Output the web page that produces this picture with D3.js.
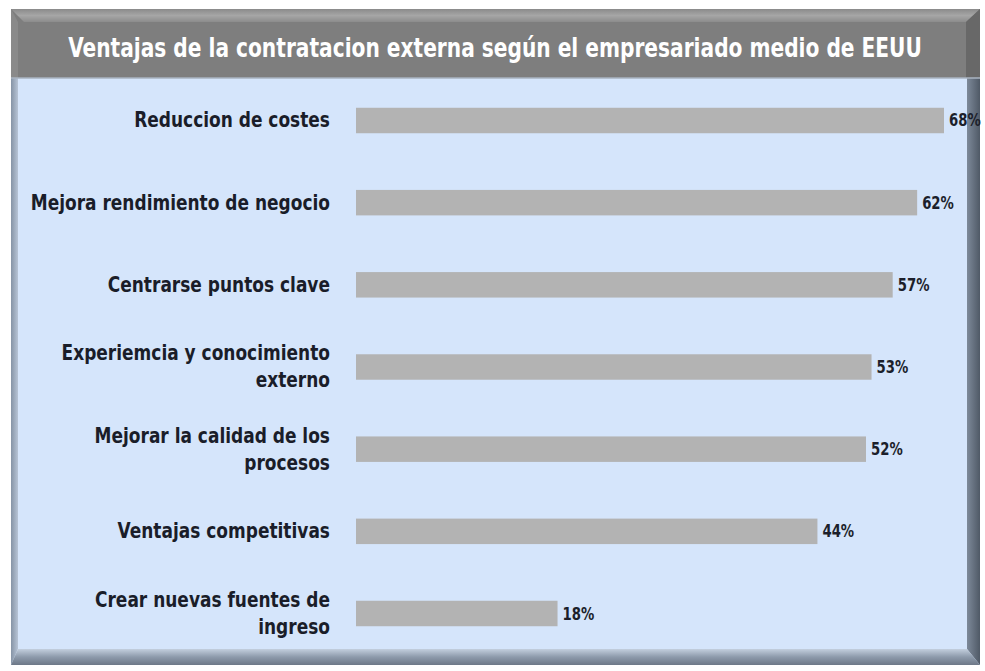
<!DOCTYPE html>
<html><head><meta charset="utf-8">
<script src="https://cdn.jsdelivr.net/npm/d3@7"></script>
<style>
html,body{margin:0;padding:0;background:#fff;}
svg{display:block;}
</style></head>
<body>
<svg id="c" width="985" height="671"></svg>
<script>
const title = "Ventajas de la contratacion externa según el empresariado medio de EEUU";
const categories = [
  ["Reduccion de costes"],
  ["Mejora rendimiento de negocio"],
  ["Centrarse puntos clave"],
  ["Experiemcia y conocimiento", "externo"],
  ["Mejorar la calidad de los", "procesos"],
  ["Ventajas competitivas"],
  ["Crear nuevas fuentes de", "ingreso"]
];
const values = [68, 62, 57, 53, 52, 44, 18];
const valueLabels = ["68%", "62%", "57%", "53%", "52%", "44%", "18%"];

const svg = d3.select("#c");
const font = "'DejaVu Sans Condensed','Liberation Sans Narrow',Arial,sans-serif";

const L = 11, R = 980, T = 9, B = 665, titleB = 78;
const defs = svg.append("defs");
const g1 = defs.append("linearGradient").attr("id","bot").attr("x1",0).attr("y1",0).attr("x2",0).attr("y2",1);
g1.append("stop").attr("offset",0).attr("stop-color","#c3cfde");
g1.append("stop").attr("offset",0.5).attr("stop-color","#8d9aab");
g1.append("stop").attr("offset",1).attr("stop-color","#6d7887");
const g2 = defs.append("linearGradient").attr("id","rgt").attr("x1",0).attr("y1",0).attr("x2",1).attr("y2",0);
g2.append("stop").attr("offset",0).attr("stop-color","#7d8999");
g2.append("stop").attr("offset",1).attr("stop-color","#4f5966");
const g3 = defs.append("linearGradient").attr("id","ttop").attr("x1",0).attr("y1",0).attr("x2",0).attr("y2",1);
g3.append("stop").attr("offset",0).attr("stop-color","#8a8a8a");
g3.append("stop").attr("offset",0.5).attr("stop-color","#a6a6a6");
g3.append("stop").attr("offset",1).attr("stop-color","#8c8c8c");
const g4 = defs.append("linearGradient").attr("id","lft").attr("x1",0).attr("y1",0).attr("x2",1).attr("y2",0);
g4.append("stop").attr("offset",0).attr("stop-color","#8694a6");
g4.append("stop").attr("offset",1).attr("stop-color","#b7c4d6");

svg.append("rect").attr("x",L).attr("y",T).attr("width",R-L).attr("height",B-T).attr("fill","#d5e5fb");
svg.append("rect").attr("x",L).attr("y",T).attr("width",R-L).attr("height",titleB-T).attr("fill","#7e7e7e");
svg.append("path").attr("d",`M${L},${T} L${R},${T} L${R-14},${T+13} L${L+13},${T+13} Z`).attr("fill","url(#ttop)");
svg.append("path").attr("d",`M${R},${T} L${R},${titleB} L${R-14},${titleB} L${R-14},${T+13} Z`).attr("fill","#686868");
svg.append("path").attr("d",`M${L},${T} L${L+7},${T+13} L${L+7},${titleB} L${L},${titleB} Z`).attr("fill","#8a8a8a");
svg.append("path").attr("d",`M${L},${titleB} L${L+7},${titleB} L${L+7},${B-16} L${L},${B} Z`).attr("fill","url(#lft)");
svg.append("path").attr("d",`M${R},${titleB} L${R},${B} L${R-13},${B-16} L${R-13},${titleB} Z`).attr("fill","url(#rgt)");
svg.append("path").attr("d",`M${L},${B} L${L+7},${B-16} L${R-13},${B-16} L${R},${B} Z`).attr("fill","url(#bot)");
svg.append("line").attr("x1",L).attr("x2",R).attr("y1",titleB).attr("y2",titleB).attr("stroke","#a9b3c0").attr("stroke-width",1.5);

// helper: horizontally compress a text element to a target width / factor
function squeeze(sel, ax, factor){
  sel.attr("transform", `translate(${ax},0) scale(${factor},1) translate(${-ax},0)`);
}

// title
const tt = svg.append("text").attr("x",495).attr("y",57).attr("text-anchor","middle")
  .attr("font-family",font).attr("font-weight","bold").attr("font-size",27)
  .attr("fill","#ffffff")
  .text(title);
const tw = tt.node().getComputedTextLength();
squeeze(tt, 495, Math.min(1, 854/tw));

const x0 = 356;
const x = d3.scaleLog().domain([9, 68]).range([x0, 944]);
const y = d3.scaleBand().domain(d3.range(values.length)).range([79, 655]).paddingInner(0.69).paddingOuter(0.35);

const rows = svg.append("g").selectAll("g").data(values).join("g");
rows.append("rect")
  .attr("x", x0)
  .attr("y", (d,i)=>y(i))
  .attr("width", d=>x(d)-x0)
  .attr("height", y.bandwidth())
  .attr("fill","#b3b3b3");
rows.append("text")
  .attr("x", d=>x(d)+5)
  .attr("y", (d,i)=>y(i)+y.bandwidth()/2+6)
  .attr("font-family",font).attr("font-weight","bold").attr("font-size",18)
  .attr("fill","#1c1f2b")
  .text((d,i)=>valueLabels[i])
  .each(function(d){ squeeze(d3.select(this), x(d)+5, 0.82); });

const lab = svg.append("g");
categories.forEach((lines,i)=>{
  const cy = y(i)+y.bandwidth()/2;
  const lh = 27;
  const startY = cy - (lines.length-1)*lh/2 + 7;
  lines.forEach((t,j)=>{
    const el = lab.append("text").attr("x",330).attr("y",startY+j*lh)
      .attr("text-anchor","end")
      .attr("font-family",font).attr("font-weight","bold").attr("font-size",21)
      .attr("fill","#1a1d29")
      .text(t);
    squeeze(el, 330, 0.9);
  });
});
</script>
</body></html>
